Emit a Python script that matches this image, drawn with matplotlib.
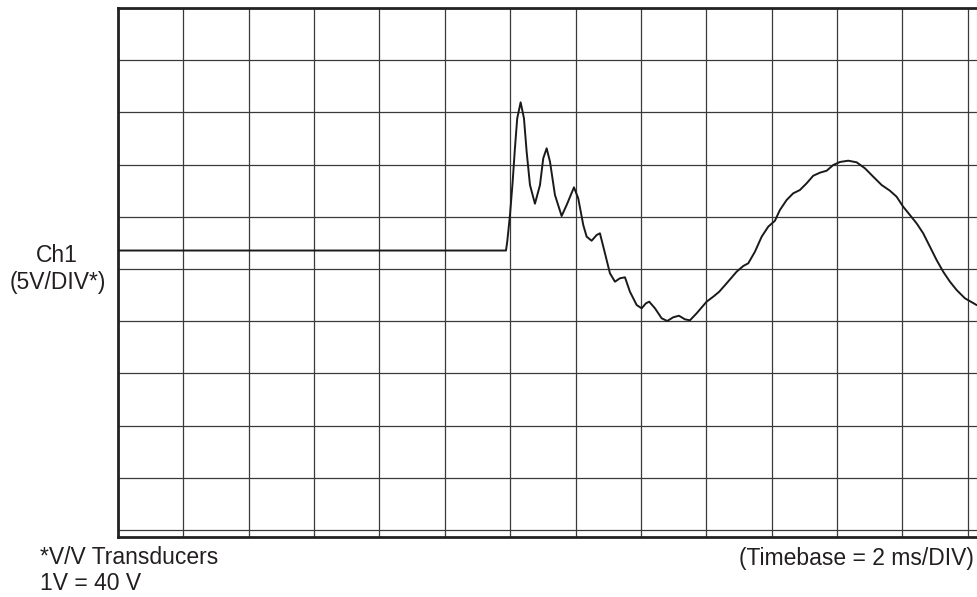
import numpy as np
import matplotlib.pyplot as plt

plt.rcParams['font.family'] = ['Liberation Sans', 'DejaVu Sans']

# scope trace, in divisions (x: 2 ms/DIV, y: 5 V/DIV, 0 = bottom graticule line)
t_div = [0.0, 5.935, 5.954, 5.996, 6.037, 6.072, 6.107, 6.159, 6.210, 6.251,
         6.302, 6.378, 6.455, 6.505, 6.557, 6.608, 6.684, 6.786, 6.863, 6.975,
         7.040, 7.117, 7.169, 7.245, 7.322, 7.372, 7.449, 7.525, 7.602, 7.678,
         7.755, 7.831, 7.934, 8.010, 8.076, 8.126, 8.214, 8.316, 8.402, 8.493,
         8.581, 8.672, 8.749, 8.851, 9.004, 9.105, 9.197, 9.310, 9.463, 9.564,
         9.641, 9.743, 9.846, 9.946, 10.049, 10.125, 10.228, 10.329, 10.431, 10.534,
         10.635, 10.737, 10.840, 10.941, 11.043, 11.170, 11.299, 11.426, 11.553, 11.681,
         11.808, 11.910, 12.011, 12.114, 12.216, 12.317, 12.420, 12.522, 12.623, 12.726,
         12.828, 12.955, 13.134]
v_div = [5.354, 5.354, 5.523, 6.034, 6.672, 7.318, 7.887, 8.193, 7.887, 7.247,
         6.609, 6.251, 6.609, 7.121, 7.312, 7.056, 6.418, 6.015, 6.226, 6.565,
         6.354, 5.843, 5.619, 5.542, 5.651, 5.684, 5.301, 4.918, 4.757, 4.822,
         4.841, 4.565, 4.310, 4.247, 4.343, 4.374, 4.247, 4.056, 4.004, 4.075,
         4.105, 4.036, 4.017, 4.151, 4.374, 4.469, 4.565, 4.726, 4.948, 5.057,
         5.109, 5.331, 5.619, 5.810, 5.925, 6.130, 6.322, 6.450, 6.513, 6.642,
         6.787, 6.845, 6.883, 6.992, 7.050, 7.075, 7.044, 6.929, 6.768, 6.609,
         6.500, 6.385, 6.193, 6.034, 5.875, 5.684, 5.427, 5.172, 4.948, 4.757,
         4.598, 4.439, 4.310]

n_xdiv = 13
n_ydiv = 10

W, H = 978, 597
fig = plt.figure(figsize=(W / 100, H / 100), dpi=100)
ax = fig.add_axes([118 / W, 1 - 537 / H, (977 - 118) / W, (537 - 8) / H])

ax.plot(t_div, v_div, color='#1a1a1a', lw=1.4, solid_joinstyle='round',
        solid_capstyle='round', zorder=3)

ax.set_xlim(0, 13.14)
ax.set_ylim(-0.134, n_ydiv)
ax.set_xticks(np.arange(n_xdiv + 1))
ax.set_yticks(np.arange(n_ydiv + 1))
ax.grid(True, color='#3a3a3a', lw=0.9)
ax.tick_params(length=0, labelbottom=False, labelleft=False)

for s in ['left', 'top', 'bottom']:
    ax.spines[s].set_linewidth(2.0)
    ax.spines[s].set_color('#222222')
ax.spines['right'].set_linewidth(0.8)
ax.spines['right'].set_color('#bbbbbb')

fs = 16.5
fig.text(57 / W, 1 - 256 / H, 'Ch1', ha='center', va='center', fontsize=fs, color='#231f20')
fig.text(58 / W, 1 - 283 / H, '(5V/DIV*)', ha='center', va='center', fontsize=fs, color='#231f20')
fig.text(40 / W, 1 - 558 / H, '*V/V Transducers', ha='left', va='center', fontsize=fs, color='#231f20')
fig.text(40 / W, 1 - 583 / H, '1V = 40 V', ha='left', va='center', fontsize=fs, color='#231f20')
fig.text(974 / W, 1 - 558 / H, '(Timebase = 2 ms/DIV)', ha='right', va='center', fontsize=fs, color='#231f20')

fig.savefig('out.png', dpi=100)
